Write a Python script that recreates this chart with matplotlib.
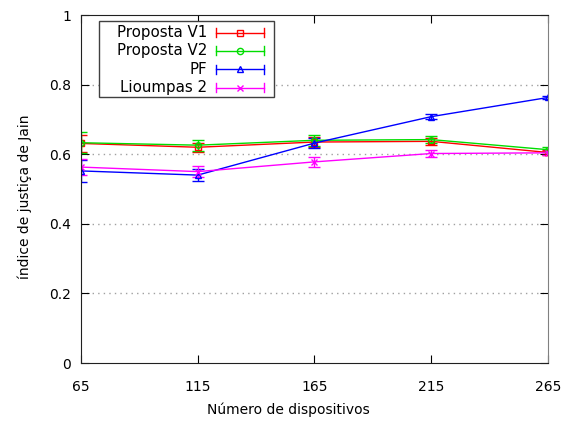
import numpy as np
import matplotlib.pyplot as plt
from matplotlib.lines import Line2D

dispositivos = [65, 115, 165, 215, 265]

proposta_v1 = [0.631, 0.620, 0.635, 0.637, 0.605]
proposta_v1_err = [0.025, 0.013, 0.015, 0.011, 0.006]

proposta_v2 = [0.633, 0.626, 0.640, 0.642, 0.613]
proposta_v2_err = [0.030, 0.016, 0.016, 0.010, 0.007]

pf = [0.552, 0.540, 0.632, 0.708, 0.763]
pf_err = [0.032, 0.017, 0.014, 0.007, 0.005]

lioumpas_2 = [0.563, 0.550, 0.578, 0.602, 0.604]
lioumpas_2_err = [0.024, 0.016, 0.015, 0.010, 0.006]

series = [
    ('Proposta V1', proposta_v1, proposta_v1_err, '#ff0000', 's'),
    ('Proposta V2', proposta_v2, proposta_v2_err, '#00dd00', 'o'),
    ('PF', pf, pf_err, '#0000ff', '^'),
    ('Lioumpas 2', lioumpas_2, lioumpas_2_err, '#ff00ff', 'x'),
]

fig = plt.figure(figsize=(5.77, 4.23), dpi=100)
ax = fig.add_axes([0.1404, 0.1418, 0.8093, 0.8227])

for nome, valores, erros, cor, marcador in series:
    ax.errorbar(dispositivos, valores, yerr=erros, color=cor, marker=marcador,
                markersize=4, markerfacecolor='none', markeredgewidth=1,
                linewidth=1, elinewidth=1, capsize=4, capthick=1)

ax.set_xlim(65, 265)
ax.set_ylim(0, 1)
ax.set_xticks(dispositivos)
ax.set_yticks([0, 0.2, 0.4, 0.6, 0.8, 1])
ax.set_yticklabels(['0', '0.2', '0.4', '0.6', '0.8', '1'])
ax.tick_params(direction='in', length=6, top=True, right=True, labelsize=10)
ax.tick_params(axis='x', pad=12)
ax.tick_params(axis='y', pad=7)
for y in [0.2, 0.4, 0.6, 0.8]:
    ax.axhline(y, color='#a0a0a0', linestyle=(0, (1, 3)), linewidth=1, zorder=0)

fig.text(0.5, 0.031, 'Número de dispositivos', ha='center', va='center',
         fontsize=10)
ax.set_ylabel('índice de justiça de Jain', fontsize=10)
ax.yaxis.set_label_coords(-0.105, 0.477)

# legenda no estilo gnuplot: texto alinhado à direita e amostra com barras
def px_to_ax(px, py):
    return (px - 81) / 467, (363 - py) / 348

x0, y0 = px_to_ax(99, 97)
x1, y1 = px_to_ax(274, 21)
ax.add_patch(plt.Rectangle((x0, y0), x1 - x0, y1 - y0, transform=ax.transAxes,
                           facecolor='white', edgecolor='#404040',
                           linewidth=1, zorder=5))
linhas_py = [32.5, 50.5, 69, 87.5]
for (nome, valores, erros, cor, marcador), py in zip(series, linhas_py):
    tx, ty = px_to_ax(207, py)
    ax.text(tx, ty, nome, transform=ax.transAxes, ha='right', va='center',
            fontsize=10.8, zorder=6)
    la, _ = px_to_ax(216, py)
    lb, _ = px_to_ax(264, py)
    lm, _ = px_to_ax(240, py)
    cap = 4.5 / 348
    ax.add_line(Line2D([la, lb], [ty, ty], transform=ax.transAxes, color=cor,
                       linewidth=1, zorder=6))
    for xc in (la, lb):
        ax.add_line(Line2D([xc, xc], [ty - cap, ty + cap], transform=ax.transAxes,
                           color=cor, linewidth=1, zorder=6))
    ax.add_line(Line2D([lm], [ty], transform=ax.transAxes, color=cor,
                       marker=marcador, markersize=4.5, markerfacecolor='none',
                       markeredgewidth=1, zorder=6))

for lado in ['left', 'bottom', 'top']:
    ax.spines[lado].set_color('#202020')
ax.spines['right'].set_color('#808080')

fig.savefig('out.png', dpi=100)
